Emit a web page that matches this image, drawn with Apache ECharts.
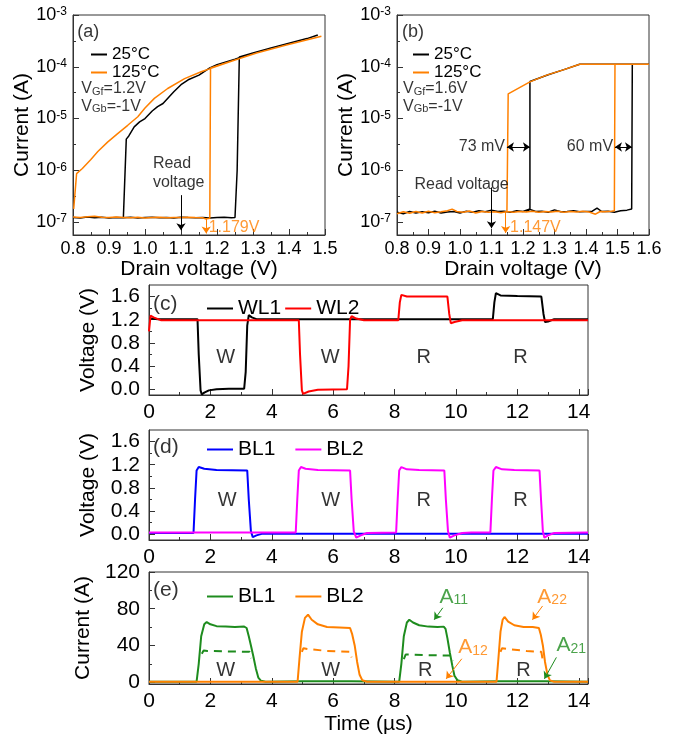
<!DOCTYPE html>
<html>
<head>
<meta charset="utf-8">
<script src="https://cdn.jsdelivr.net/npm/echarts@6/dist/echarts.min.js"></script>
<style>
html, body { margin: 0; padding: 0; background: #fff; }
#chart { width: 674px; height: 738px; }
</style>
</head>
<body>
<div id="chart"></div>
<script>
// ---- (a) VGf=1.2V, drain sweep, [V, I (A)]
const a25 = [
  [0.80, 1.22e-7], [0.82, 1.2e-7], [0.84, 1.25e-7], [0.86, 1.21e-7], [0.88, 1.24e-7], [0.90, 1.2e-7],
  [0.92, 1.23e-7], [0.94, 1.21e-7], [0.96, 1.24e-7], [0.98, 1.2e-7], [1.00, 1.22e-7], [1.02, 1.24e-7],
  [1.04, 1.21e-7], [1.06, 1.23e-7], [1.08, 1.2e-7], [1.10, 1.24e-7], [1.12, 1.22e-7], [1.14, 1.21e-7],
  [1.16, 1.23e-7], [1.18, 1.2e-7], [1.20, 1.22e-7], [1.22, 1.24e-7], [1.24, 1.21e-7], [1.25, 1.22e-7],
  [1.256, 1.0e-6], [1.262, 1.55e-4], [1.30, 1.85e-4], [1.35, 2.3e-4], [1.40, 2.85e-4], [1.45, 3.5e-4],
  [1.48, 4.1e-4], [1.45, 3.5e-4], [1.40, 2.85e-4], [1.35, 2.3e-4], [1.30, 1.85e-4], [1.25, 1.4e-4],
  [1.20, 1.1e-4], [1.18, 9.5e-5], [1.15, 6.9e-5], [1.12, 5.6e-5], [1.10, 4.5e-5], [1.08, 3.3e-5],
  [1.05, 1.95e-5], [1.035, 1.7e-5], [1.02, 1.4e-5], [1.00, 1.0e-5], [0.985, 8.6e-6], [0.97, 6.9e-6],
  [0.955, 4.6e-6], [0.948, 4.0e-6], [0.94, 1.25e-7]
];
const a125 = [
  [0.80, 1.25e-7], [0.82, 1.22e-7], [0.84, 1.26e-7], [0.86, 1.3e-7], [0.88, 1.24e-7], [0.90, 1.22e-7],
  [0.92, 1.25e-7], [0.94, 1.23e-7], [0.96, 1.21e-7], [0.98, 1.24e-7], [1.00, 1.2e-7], [1.02, 1.22e-7],
  [1.04, 1.24e-7], [1.06, 1.21e-7], [1.08, 1.23e-7], [1.10, 1.22e-7], [1.12, 1.24e-7], [1.14, 1.22e-7],
  [1.16, 1.21e-7], [1.168, 1.15e-7], [1.18, 1.18e-7], [1.182, 9.5e-5], [1.25, 1.35e-4], [1.31, 1.85e-4],
  [1.39, 2.6e-4], [1.49, 3.9e-4], [1.39, 2.6e-4], [1.31, 1.85e-4], [1.25, 1.35e-4], [1.183, 9.3e-5],
  [1.156, 8.0e-5], [1.11, 5.9e-5], [1.063, 3.8e-5], [1.026, 2.45e-5], [1.00, 1.6e-5], [0.98, 1.08e-5],
  [0.952, 7.4e-6], [0.924, 5.1e-6], [0.896, 3.5e-6], [0.869, 2.3e-6], [0.849, 1.6e-6], [0.826, 1.08e-6],
  [0.81, 8.6e-7], [0.802, 1.8e-7]
];

// ---- (b) VGf=1.6V
const b25 = [
  [0.80, 1.55e-7], [0.82, 1.45e-7], [0.84, 1.6e-7], [0.86, 1.5e-7], [0.88, 1.58e-7], [0.90, 1.52e-7],
  [0.92, 1.62e-7], [0.94, 1.5e-7], [0.96, 1.57e-7], [0.98, 1.6e-7], [1.00, 1.5e-7], [1.02, 1.62e-7],
  [1.04, 1.55e-7], [1.06, 1.65e-7], [1.08, 1.58e-7], [1.10, 1.7e-7], [1.12, 1.6e-7], [1.14, 1.62e-7],
  [1.16, 1.55e-7], [1.18, 1.65e-7], [1.20, 1.6e-7], [1.22, 1.78e-7], [1.24, 1.6e-7], [1.26, 1.62e-7],
  [1.28, 1.55e-7], [1.30, 1.72e-7], [1.32, 1.58e-7], [1.34, 1.6e-7], [1.36, 1.66e-7], [1.38, 1.58e-7],
  [1.40, 1.6e-7], [1.42, 1.62e-7], [1.435, 1.85e-7], [1.45, 1.6e-7], [1.47, 1.62e-7], [1.49, 1.55e-7],
  [1.51, 1.65e-7], [1.53, 1.7e-7], [1.545, 1.78e-7], [1.547, 1.12e-4], [1.60, 1.12e-4], [1.38, 1.12e-4],
  [1.33, 8.8e-5], [1.28, 7.0e-5], [1.222, 5.2e-5], [1.222, 1.75e-7], [1.21, 1.62e-7]
];
const b125 = [
  [0.80, 1.45e-7], [0.82, 1.58e-7], [0.84, 1.48e-7], [0.86, 1.6e-7], [0.88, 1.5e-7], [0.90, 1.62e-7],
  [0.92, 1.52e-7], [0.94, 1.58e-7], [0.96, 1.66e-7], [0.975, 1.78e-7], [0.99, 1.6e-7], [1.01, 1.55e-7],
  [1.03, 1.63e-7], [1.05, 1.5e-7], [1.07, 1.6e-7], [1.09, 1.55e-7], [1.11, 1.58e-7], [1.13, 1.52e-7],
  [1.15, 1.6e-7], [1.17, 1.55e-7], [1.19, 1.6e-7], [1.21, 1.56e-7], [1.23, 1.62e-7], [1.25, 1.55e-7],
  [1.27, 1.6e-7], [1.29, 1.57e-7], [1.31, 1.62e-7], [1.33, 1.55e-7], [1.35, 1.6e-7], [1.37, 1.57e-7],
  [1.39, 1.61e-7], [1.41, 1.56e-7], [1.43, 1.42e-7], [1.445, 1.6e-7], [1.46, 1.58e-7], [1.48, 1.62e-7],
  [1.49, 1.65e-7], [1.492, 1.12e-4], [1.60, 1.12e-4], [1.38, 1.12e-4], [1.328, 8.7e-5], [1.275, 6.9e-5],
  [1.222, 5.1e-5], [1.153, 3.0e-5], [1.149, 3.0e-5], [1.149, 1.6e-7]
];

// ---- (c) word lines, [t (us), V]
const wl1 = [
  [0, 1.22], [0.3, 1.21], [1.0, 1.21], [1.58, 1.21], [1.62, 0.6], [1.68, -0.02], [1.72, -0.09], [1.8, -0.06],
  [1.95, -0.02], [2.2, 0.0], [2.6, 0.01], [3.1, 0.01], [3.15, 0.3], [3.2, 1.1], [3.25, 1.28], [3.35, 1.24],
  [3.5, 1.21], [6.0, 1.21], [9.0, 1.21], [11.2, 1.21], [11.25, 1.5], [11.3, 1.66], [11.45, 1.62], [12.0, 1.61],
  [12.78, 1.6], [12.85, 1.3], [12.9, 1.16], [13.0, 1.17], [13.2, 1.21], [14.3, 1.21]
];
const wl2 = [
  [0, 1.0], [0.05, 1.27], [0.15, 1.24], [0.4, 1.19], [4.88, 1.19], [4.92, 0.6], [4.98, -0.02], [5.02, -0.08],
  [5.2, -0.04], [5.5, -0.01], [6.45, 0.0], [6.5, 0.4], [6.55, 1.2], [6.6, 1.26], [6.75, 1.22], [7.0, 1.19],
  [8.12, 1.19], [8.17, 1.5], [8.22, 1.63], [8.4, 1.6], [9.72, 1.6], [9.78, 1.3], [9.83, 1.14], [9.95, 1.16],
  [10.2, 1.19], [14.3, 1.19]
];

// ---- (d) bit lines voltage
const bl1v = [
  [0, 0.02], [1.45, 0.02], [1.5, 0.6], [1.55, 1.1], [1.62, 1.16], [1.8, 1.13], [2.2, 1.11], [3.2, 1.1],
  [3.25, 0.6], [3.32, 0.05], [3.38, -0.05], [3.5, -0.02], [3.7, 0.01], [14.3, 0.01]
];
const bl2v = [
  [0, 0.03], [4.78, 0.03], [4.83, 0.6], [4.88, 1.1], [4.95, 1.16], [5.1, 1.13], [5.5, 1.11], [6.55, 1.1],
  [6.6, 0.6], [6.67, 0.05], [6.75, -0.06], [6.9, -0.02], [7.1, 0.02], [8.05, 0.03], [8.1, 0.6], [8.15, 1.1],
  [8.22, 1.16], [8.4, 1.12], [8.8, 1.11], [9.62, 1.1], [9.67, 0.6], [9.74, 0.05], [9.8, -0.06], [9.95, -0.02],
  [10.2, 0.02], [10.5, 0.03], [11.12, 0.03], [11.17, 0.6], [11.22, 1.1], [11.3, 1.16], [11.5, 1.12],
  [11.9, 1.11], [12.72, 1.1], [12.77, 0.6], [12.83, 0.05], [12.88, -0.06], [13.0, -0.02], [13.2, 0.02],
  [14.3, 0.03]
];

// ---- (e) bit line currents
const bl1i = [
  [0, 0.5], [1.55, 0.5], [1.62, 20], [1.7, 50], [1.8, 63], [1.88, 65.5], [2.0, 63], [2.2, 61], [2.5, 60.5],
  [2.8, 60], [3.1, 60.5], [3.18, 59], [3.25, 50], [3.32, 40], [3.4, 28], [3.48, 15], [3.56, 5], [3.65, 1.5],
  [3.8, 0.5], [5.0, 1], [6.6, 1], [8.15, 0.5], [8.22, 20], [8.3, 50], [8.4, 65], [8.48, 68], [8.6, 65],
  [8.8, 62], [9.1, 60.5], [9.4, 60], [9.6, 60.5], [9.66, 58], [9.72, 48], [9.8, 32], [9.88, 18], [9.95, 7],
  [10.05, 2], [10.2, 0.5], [11.4, 1], [12.9, 1], [14.3, 0.5]
];
const bl2i = [
  [0, 0.5], [4.84, 0.5], [4.9, 25], [4.98, 55], [5.08, 70], [5.18, 73.5], [5.3, 68], [5.5, 63], [5.8, 60],
  [6.2, 59.5], [6.55, 59], [6.62, 52], [6.7, 40], [6.78, 22], [6.86, 8], [6.95, 2], [7.1, 0.5], [11.32, 0.5],
  [11.38, 25], [11.45, 55], [11.52, 68], [11.58, 71], [11.7, 66], [11.9, 62], [12.2, 60], [12.5, 60],
  [12.7, 59], [12.76, 52], [12.83, 40], [12.9, 22], [12.98, 8], [13.06, 2], [13.2, 0.5], [14.3, 0.5]
];
const bl1dash = [
  [1.72, 31], [1.78, 34.5], [1.9, 34], [2.5, 33.5], [3.28, 33], [3.32, 26], [3.4, '-'],
  [8.3, 25], [8.36, 30], [8.5, 30], [9.0, 29.5], [9.85, 29], [9.9, 23]
];
const bl2dash = [
  [4.98, 33], [5.03, 37], [5.2, 36], [5.8, 34], [6.55, 33], [6.6, 27], [6.7, '-'],
  [11.45, 33], [11.5, 37], [11.7, 36], [12.3, 34], [12.78, 33], [12.82, 25]
];

// tick labels
const logTicks = [-7, -6, -5, -4, -3];
const logMinor = [-6.5, -5.5, -4.5, -3.5];
const voltTicks = [0, 0.4, 0.8, 1.2, 1.6];
const voltMinor = [0.2, 0.6, 1.0, 1.4];
const curTicks = [0, 40, 80, 120];
const curMinor = [20, 60, 100];

const FONT = 'Liberation Sans, Arial, sans-serif';
const INK = '#333';
const ORANGE = '#ff8000';
const GREEN = '#1e8c1e';
const lg = pts => pts.map(p => [p[0], Math.log10(p[1])]);

const grids = [
  { left: 73, top: 15, width: 252, height: 220 },
  { left: 397, top: 15, width: 252, height: 220 },
  { left: 149, top: 285, width: 439, height: 110 },
  { left: 149, top: 430, width: 439, height: 110 },
  { left: 149, top: 572, width: 439, height: 112 }
].map(g => Object.assign({ show: true, borderColor: INK, borderWidth: 1 }, g));

function xAx(gi, min, max, interval, o) {
  return {
    type: 'value', gridIndex: gi, min, max, interval,
    axisLine: { show: true, onZero: false, lineStyle: { color: INK } },
    axisTick: { inside: true, length: 6, lineStyle: { color: INK } },
    minorTick: { show: true, splitNumber: 2, length: 3, lineStyle: { color: INK } },
    splitLine: { show: false },
    axisLabel: { color: '#000', fontSize: o.fs, margin: o.margin, formatter: o.fmt, showMaxLabel: o.showMax },
    name: o.name || '', nameLocation: 'middle', nameGap: o.nameGap || 0,
    nameTextStyle: { fontSize: 21, color: '#000' }
  };
}

function yAx(gi, min, max, ticks, o) {
  return {
    type: 'value', gridIndex: gi, min, max, position: 'left',
    axisLine: { show: true, onZero: false, lineStyle: { color: INK } },
    axisTick: { inside: true, length: 6, customValues: ticks, lineStyle: { color: INK } },
    splitLine: { show: false },
    axisLabel: { color: '#000', fontSize: o.fs, margin: o.margin, customValues: ticks, formatter: o.fmt, rich: o.rich },
    name: o.name, nameLocation: 'middle', nameGap: o.nameGap,
    nameTextStyle: { fontSize: 21, color: '#000' }
  };
}

function yMinor(gi, min, max, vals) {
  return {
    type: 'value', gridIndex: gi, min, max, position: 'left', offset: 0,
    axisLine: { show: false },
    axisTick: { show: true, inside: true, length: 3, customValues: vals, lineStyle: { color: INK } },
    axisLabel: { show: false }, splitLine: { show: false }
  };
}

const supRich = { b: { fontSize: 18, color: '#000' }, s: { fontSize: 12, color: '#000', verticalAlign: 'top', lineHeight: 12 } };
const logFmt = v => '{b|10}{s|' + v + '}';

function line(name, gi, data, color, width, extra) {
  return Object.assign({
    name, type: 'line', xAxisIndex: gi, yAxisIndex: gi, data, symbol: 'none',
    lineStyle: { color, width }, itemStyle: { color }, silent: true
  }, extra || {});
}

function richFor(color, size) {
  return {
    n: { fontSize: size, color },
    sub: { fontSize: Math.round(size * 0.68), color, verticalAlign: 'bottom', lineHeight: 10 }
  };
}

// items: [x, y, text, color, size, align]
function notes(gi, items) {
  return {
    type: 'scatter', xAxisIndex: gi, yAxisIndex: gi, symbolSize: 0, silent: true, z: 5,
    data: items.map(it => ({
      value: [it[0], it[1]],
      label: {
        show: true, position: 'inside', formatter: it[2], color: it[3] || '#000',
        fontSize: it[4] || 20, align: it[5] || 'center', verticalAlign: 'middle',
        rich: richFor(it[3] || '#000', it[4] || 20)
      }
    }))
  };
}

// segs: [[x1, y1, x2, y2], ...]
function arrows(gi, color, segs, both) {
  return {
    type: 'scatter', xAxisIndex: gi, yAxisIndex: gi, data: [], silent: true,
    markLine: {
      silent: true, animation: false,
      symbol: both ? ['arrow', 'arrow'] : ['none', 'arrow'], symbolSize: 7,
      label: { show: false },
      lineStyle: { color, width: 1, type: 'solid' },
      data: segs.map(s => [{ coord: [s[0], s[1]] }, { coord: [s[2], s[3]] }])
    }
  };
}

function legend(names, left, top, o) {
  return Object.assign({
    data: names, left, top, icon: 'rect', itemWidth: 26, itemHeight: 2, selectedMode: false,
    formatter: n => n.split(' ')[0],
    textStyle: { fontSize: 21, color: '#000' }
  }, o);
}

const option = {
  animation: false,
  backgroundColor: '#fff',
  textStyle: { fontFamily: FONT },
  grid: grids,
  legend: [
    legend(['25°C (a)', '125°C (a)'], 86, 41, { orient: 'vertical', itemWidth: 16, itemGap: 1, textStyle: { fontSize: 17, color: '#000' } }),
    legend(['25°C (b)', '125°C (b)'], 408, 41, { orient: 'vertical', itemWidth: 16, itemGap: 1, textStyle: { fontSize: 17, color: '#000' } }),
    legend(['WL1', 'WL2'], 202, 293, { itemGap: 4 }),
    legend(['BL1 (d)', 'BL2 (d)'], 202, 434, { itemGap: 20 }),
    legend(['BL1 (e)', 'BL2 (e)'], 202, 581, { itemGap: 20 })
  ],
  xAxis: [
    xAx(0, 0.8, 1.5, 0.1, { fs: 18, margin: 5, fmt: v => v.toFixed(1), name: 'Drain voltage (V)', nameGap: 24 }),
    xAx(1, 0.8, 1.6, 0.1, { fs: 18, margin: 5, fmt: v => v.toFixed(1), name: 'Drain voltage (V)', nameGap: 24 }),
    xAx(2, 0, 14.3, 2, { fs: 21, margin: 7, fmt: v => String(v), showMax: false }),
    xAx(3, 0, 14.3, 2, { fs: 21, margin: 7, fmt: v => String(v), showMax: false }),
    xAx(4, 0, 14.3, 2, { fs: 21, margin: 7, fmt: v => String(v), showMax: false, name: 'Time (µs)', nameGap: 30 })
  ],
  yAxis: [
    yAx(0, -7.25, -3, logTicks, { fs: 18, margin: 6, fmt: logFmt, rich: supRich, name: 'Current (A)', nameGap: 40 }),
    yAx(1, -7.25, -3, logTicks, { fs: 18, margin: 6, fmt: logFmt, rich: supRich, name: 'Current (A)', nameGap: 40 }),
    yAx(2, -0.1, 1.8, voltTicks, { fs: 21, margin: 9, fmt: v => v.toFixed(1), name: 'Voltage (V)', nameGap: 50 }),
    yAx(3, -0.1, 1.8, voltTicks, { fs: 21, margin: 9, fmt: v => v.toFixed(1), name: 'Voltage (V)', nameGap: 50 }),
    yAx(4, -2, 120, curTicks, { fs: 21, margin: 9, fmt: v => String(v), name: 'Current (A)', nameGap: 50 }),
    yMinor(0, -7.25, -3, logMinor),
    yMinor(1, -7.25, -3, logMinor),
    yMinor(2, -0.1, 1.8, voltMinor),
    yMinor(3, -0.1, 1.8, voltMinor),
    yMinor(4, -2, 120, curMinor)
  ],
  series: [
    line('25°C (a)', 0, lg(a25), '#000', 1.5),
    line('125°C (a)', 0, lg(a125), ORANGE, 1.5),
    line('25°C (b)', 1, lg(b25), '#000', 1.5),
    line('125°C (b)', 1, lg(b125), ORANGE, 1.5),
    line('WL1', 2, wl1, '#000', 2),
    line('WL2', 2, wl2, '#ff0000', 2),
    line('BL1 (d)', 3, bl1v, '#0000ff', 2),
    line('BL2 (d)', 3, bl2v, '#ff00ff', 2),
    line('BL1 (e)', 4, bl1i, GREEN, 2),
    line('BL2 (e)', 4, bl2i, ORANGE, 2),
    line('BL1 dash', 4, bl1dash, GREEN, 2, { lineStyle: { color: GREEN, width: 2, type: [8, 6] } }),
    line('BL2 dash', 4, bl2dash, ORANGE, 2, { lineStyle: { color: ORANGE, width: 2, type: [8, 6] } }),

    notes(0, [
      [0.812, -3.33, '(a)', '#000', 18, 'left'],
      [0.823, -4.43, '{n|V}{sub|Gf}{n|=1.2V}', '#000', 16, 'left'],
      [0.823, -4.76, '{n|V}{sub|Gb}{n|=-1V}', '#000', 16, 'left'],
      [1.022, -5.88, 'Read', '#000', 16, 'left'],
      [1.022, -6.23, 'voltage', '#000', 16, 'left'],
      [1.177, -7.1, '1.179V', ORANGE, 16, 'left']
    ]),
    arrows(0, '#000', [[1.1, -6.48, 1.1, -7.16]]),
    arrows(0, ORANGE, [[1.17, -6.93, 1.17, -7.22]]),

    notes(1, [
      [0.816, -3.33, '(b)', '#000', 18, 'left'],
      [0.819, -4.43, '{n|V}{sub|Gf}{n|=1.6V}', '#000', 16, 'left'],
      [0.819, -4.76, '{n|V}{sub|Gb}{n|=-1V}', '#000', 16, 'left'],
      [1.143, -5.55, '73 mV', '#000', 16, 'right'],
      [1.486, -5.55, '60 mV', '#000', 16, 'right'],
      [1.005, -6.27, 'Read voltage', '#000', 16, 'center'],
      [1.159, -7.1, '1.147V', ORANGE, 16, 'left']
    ]),
    arrows(1, '#000', [[1.149, -5.55, 1.222, -5.55], [1.492, -5.55, 1.546, -5.55]], true),
    arrows(1, '#000', [[1.1, -6.33, 1.1, -7.12]]),
    arrows(1, ORANGE, [[1.145, -6.8, 1.145, -7.21]]),

    notes(2, [
      [0.13, 1.46, '(c)', '#000', 21, 'left'],
      [2.5, 0.55, 'W'], [5.9, 0.55, 'W'], [8.95, 0.55, 'R'], [12.1, 0.55, 'R']
    ]),
    notes(3, [
      [0.13, 1.5, '(d)', '#000', 21, 'left'],
      [2.55, 0.58, 'W'], [5.92, 0.58, 'W'], [8.95, 0.58, 'R'], [12.1, 0.58, 'R']
    ]),
    notes(4, [
      [0.13, 100, '(e)', '#000', 21, 'left'],
      [2.5, 12.8, 'W'], [5.92, 12.8, 'W'], [9.0, 12.8, 'R'], [12.2, 12.8, 'R'],
      [9.46, 93, '{n|A}{sub|11}', GREEN, 21, 'left'],
      [12.65, 93, '{n|A}{sub|22}', ORANGE, 21, 'left'],
      [10.07, 38, '{n|A}{sub|12}', ORANGE, 21, 'left'],
      [13.27, 40, '{n|A}{sub|21}', GREEN, 21, 'left']
    ]),
    arrows(4, GREEN, [[9.57, 81, 9.29, 68], [13.27, 27, 12.88, 3.6]]),
    arrows(4, ORANGE, [[12.82, 83, 12.49, 68], [10.19, 25.5, 9.68, 3.6]])
  ]
};

const chart = echarts.init(document.getElementById('chart'), null, { renderer: 'canvas' });
chart.setOption(option);
</script>
</body>
</html>
